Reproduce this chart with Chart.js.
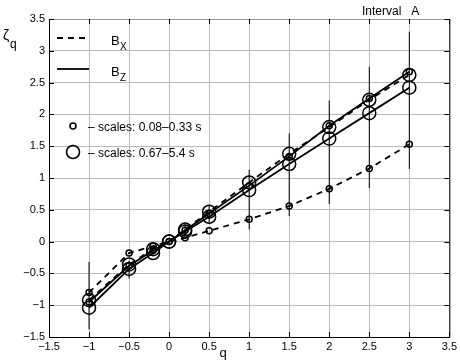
<!DOCTYPE html>
<html>
<head>
<meta charset="utf-8">
<script src="https://cdn.jsdelivr.net/npm/chart.js@4/dist/chart.umd.min.js"></script>
<style>
  html, body { margin: 0; padding: 0; background: #fff; }
  #wrap { width: 460px; height: 361px; }
</style>
</head>
<body>
<div id="wrap"><canvas id="myChart" width="460" height="361"></canvas></div>
<script>
// moments q and scaling exponents zeta_q
var qValues = [-1, -0.5, -0.2, 0, 0.2, 0.5, 1, 1.5, 2, 2.5, 3];
var bxSmall = [-0.80, -0.18, -0.07, 0, 0.06, 0.17, 0.35, 0.56, 0.83, 1.15, 1.53];
var bxLarge = [-0.92, -0.36, -0.12, 0, 0.19, 0.47, 0.93, 1.38, 1.80, 2.23, 2.62];
var bzSmall = [-0.95, -0.38, -0.14, 0, 0.18, 0.44, 0.88, 1.34, 1.82, 2.25, 2.67];
var bzLarge = [-1.04, -0.43, -0.18, 0, 0.16, 0.39, 0.81, 1.22, 1.62, 2.02, 2.42];
// vertical error ranges
var errLow  = [-1.38, -0.58, -0.22, -0.04, 0.10, 0.30, 0.19, 0.40, 0.59, 0.84, 1.14];
var errHigh = [-0.32, -0.30, -0.05, 0.05, 0.28, 0.58, 1.13, 1.70, 2.22, 2.75, 3.30];
var axisTicks = [-1.5, -1, -0.5, 0, 0.5, 1, 1.5, 2, 2.5, 3, 3.5];

function pts(ys) {
    return qValues.map(function (q, i) { return { x: q, y: ys[i] }; });
}
function errPts() {
    var out = [];
    qValues.forEach(function (q, i) {
        out.push({ x: q, y: errLow[i] });
        out.push({ x: q, y: errHigh[i] });
        out.push({ x: q, y: null });
    });
    return out;
}
function fmt(v) {
    var s = String(Math.abs(v));
    return v < 0 ? '\u2212' + s : s;
}

var FONT = '"Liberation Sans", Arial, sans-serif';

function series(label, ys, dashed, radius) {
    return {
        label: label,
        data: pts(ys),
        showLine: true,
        borderColor: '#000',
        borderWidth: 1.8,
        borderDash: dashed ? [6, 5] : [],
        pointRadius: radius,
        pointBorderWidth: 1.5,
        pointBackgroundColor: 'rgba(0,0,0,0)',
        pointBorderColor: '#000',
        fill: false,
        tension: 0
    };
}

var decor = {
    id: 'decor',
    afterDraw: function (chart) {
        var c = chart.ctx, a = chart.chartArea;
        var xs = chart.scales.x, ys = chart.scales.y;
        c.save();
        // box
        c.strokeStyle = '#000';
        c.lineWidth = 1;
        c.beginPath();
        c.moveTo(a.left + 0.5, a.top);
        c.lineTo(a.left + 0.5, a.bottom + 0.5);
        c.lineTo(a.right + 0.5, a.bottom + 0.5);
        c.lineTo(a.right + 0.5, a.top);
        c.stroke();
        c.strokeStyle = '#999';
        c.beginPath();
        c.moveTo(a.left, a.top + 0.5);
        c.lineTo(a.right, a.top + 0.5);
        c.stroke();
        // inward ticks
        c.strokeStyle = '#000';
        c.beginPath();
        axisTicks.forEach(function (t) {
            var px = Math.round(xs.getPixelForValue(t)) + 0.5;
            var py = Math.round(ys.getPixelForValue(t)) + 0.5;
            c.moveTo(px, a.bottom); c.lineTo(px, a.bottom - 5);
            c.moveTo(px, a.top); c.lineTo(px, a.top + 5);
            c.moveTo(a.left, py); c.lineTo(a.left + 5, py);
            c.moveTo(a.right, py); c.lineTo(a.right - 5, py);
        });
        c.stroke();

        // legend
        c.fillStyle = '#000';
        c.lineWidth = 1.8;
        c.setLineDash([6, 5]);
        c.beginPath(); c.moveTo(57, 38); c.lineTo(88, 38); c.stroke();
        c.setLineDash([]);
        c.beginPath(); c.moveTo(57, 69); c.lineTo(89, 69); c.stroke();
        c.font = '13px ' + FONT;
        c.textBaseline = 'alphabetic';
        c.fillText('B', 111, 45);
        c.fillText('B', 111, 76);
        c.font = '10px ' + FONT;
        c.fillText('X', 120, 50);
        c.fillText('Z', 120, 81);
        c.lineWidth = 1.6;
        c.beginPath(); c.arc(73, 126, 3, 0, Math.PI * 2); c.stroke();
        c.beginPath(); c.arc(73, 152, 6.5, 0, Math.PI * 2); c.stroke();
        c.font = '12px ' + FONT;
        c.fillText('\u2013 scales: 0.08\u20130.33 s', 88, 131);
        c.fillText('\u2013 scales: 0.67\u20135.4 s', 88, 157);

        // axis labels and title
        c.font = '14px ' + FONT;
        c.fillText('\u03b6', 3, 40);
        c.font = '12px ' + FONT;
        c.fillText('q', 10, 48);
        c.font = '13px ' + FONT;
        c.textAlign = 'center';
        c.fillText('q', 223, 357);
        c.textAlign = 'left';
        c.font = '12px ' + FONT;
        c.fillText('Interval   A', 362, 15);
        c.restore();
    }
};

var ctx = document.getElementById('myChart');
var myChart = new Chart(ctx, {
    type: 'scatter',
    data: {
        datasets: [
            {
                label: 'errors',
                data: errPts(),
                showLine: true,
                spanGaps: false,
                borderColor: '#000',
                borderWidth: 1,
                pointRadius: 0
            },
            series('Bx small scales', bxSmall, true, 3),
            series('Bx large scales', bxLarge, true, 6.5),
            series('Bz small scales', bzSmall, false, 3),
            series('Bz large scales', bzLarge, false, 6.5)
        ]
    },
    plugins: [decor],
    options: {
        responsive: false,
        animation: false,
        events: [],
        layout: { padding: { left: 0, right: 10, top: 19, bottom: 0 } },
        plugins: { legend: { display: false }, tooltip: { enabled: false } },
        scales: {
            x: {
                type: 'linear',
                min: -1.5, max: 3.5,
                afterBuildTicks: function (s) { s.ticks = axisTicks.map(function (v) { return { value: v }; }); },
                afterFit: function (s) { s.height = 24; },
                border: { display: false },
                grid: { color: '#bbb', borderDash: [1, 3], drawTicks: false, lineWidth: 1 },
                ticks: { color: '#000', padding: 3, maxRotation: 0, autoSkip: false,
                         font: { family: FONT, size: 11 }, callback: function (v) { return fmt(v); } }
            },
            y: {
                type: 'linear',
                min: -1.5, max: 3.5,
                afterBuildTicks: function (s) { s.ticks = axisTicks.map(function (v) { return { value: v }; }); },
                afterFit: function (s) { s.width = 49; },
                border: { display: false },
                grid: { color: '#bbb', borderDash: [1, 3], drawTicks: false, lineWidth: 1 },
                ticks: { color: '#000', padding: 4, autoSkip: false,
                         font: { family: FONT, size: 11 }, callback: function (v) { return fmt(v); } }
            }
        }
    }
});
</script>
</body>
</html>
